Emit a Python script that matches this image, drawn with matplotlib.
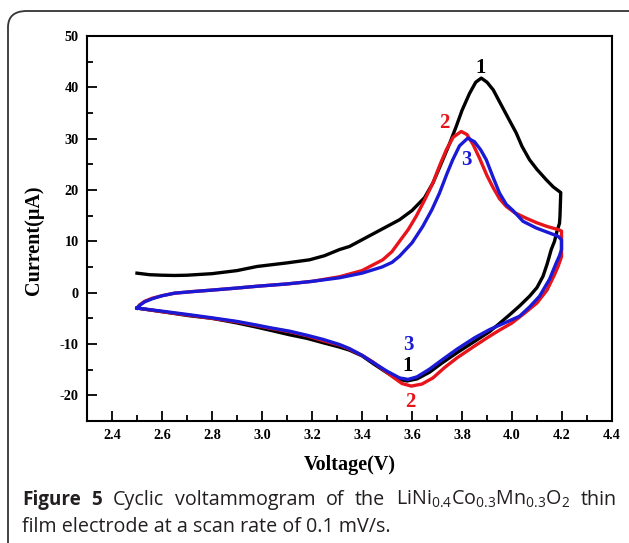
import matplotlib
matplotlib.use('Agg')
import matplotlib.pyplot as plt
from matplotlib.patches import FancyBboxPatch
from matplotlib.ticker import MultipleLocator

plt.rcParams["axes.unicode_minus"] = False
plt.rcParams["mathtext.default"] = "regular"

# cycle 1 (black): anodic sweep up to 4.2 V, then cathodic sweep back to 2.5 V
v1 = [2.50, 2.55, 2.60, 2.65, 2.70, 2.80, 2.90, 2.98, 3.10, 3.19, 3.25, 3.31, 3.35, 3.40, 3.45,
      3.50, 3.55, 3.60, 3.65, 3.684, 3.72, 3.75, 3.777, 3.80, 3.83, 3.855, 3.877, 3.90, 3.925, 3.95,
      3.985, 4.017, 4.04, 4.07, 4.10, 4.137, 4.165, 4.195,
      4.192, 4.19, 4.18, 4.17, 4.157, 4.14, 4.124, 4.10, 4.07, 4.03, 4.00, 3.95, 3.91, 3.85, 3.78,
      3.72, 3.67, 3.62, 3.58, 3.54, 3.50, 3.444, 3.40, 3.35, 3.31, 3.244, 3.18, 3.11, 3.04, 2.977,
      2.90, 2.80, 2.71, 2.60, 2.50]
i1 = [3.8, 3.5, 3.4, 3.35, 3.4, 3.7, 4.3, 5.1, 5.8, 6.4, 7.2, 8.4, 9.0, 10.3, 11.6,
      12.9, 14.2, 16.0, 18.5, 21.4, 25.5, 29.0, 32.4, 35.5, 38.8, 41.0, 41.8, 41.0, 39.5, 37.2,
      34.0, 31.1, 28.5, 25.9, 24.0, 22.0, 20.6, 19.5,
      15.0, 13.5, 12.0, 10.0, 8.4, 5.5, 3.2, 1.0, -0.7, -2.6, -3.9, -6.0, -7.6, -9.5, -11.7,
      -13.7, -15.5, -16.8, -17.2, -16.8, -15.6, -13.8, -12.3, -11.2, -10.6, -9.75, -8.9, -8.2, -7.4, -6.7,
      -5.9, -5.0, -4.5, -3.7, -3.0]

# cycle 2 (red)
v2 = [2.50, 2.51, 2.53, 2.56, 2.60, 2.65, 2.72, 2.80, 2.90, 2.98, 3.10, 3.20, 3.31, 3.40, 3.483,
      3.52, 3.55, 3.585, 3.617, 3.65, 3.684, 3.71, 3.737, 3.765, 3.797, 3.82, 3.845, 3.87, 3.90, 3.924,
      3.95, 3.977, 4.01, 4.057, 4.10, 4.14, 4.184, 4.198,
      4.198, 4.185, 4.17, 4.14, 4.10, 4.05, 4.00, 3.95, 3.91, 3.85, 3.78, 3.73, 3.684, 3.64, 3.597,
      3.56, 3.52, 3.48, 3.444, 3.40, 3.35, 3.31, 3.24, 3.18, 3.11, 3.04, 2.977, 2.90, 2.80, 2.71,
      2.60, 2.50]
i2 = [-3.0, -2.4, -1.7, -1.1, -0.6, -0.1, 0.2, 0.5, 0.9, 1.25, 1.7, 2.2, 3.1, 4.3, 6.4,
      8.0, 10.0, 12.3, 14.9, 18.0, 21.4, 24.7, 27.8, 30.3, 31.4, 30.8, 28.8, 26.2, 22.8, 20.5,
      18.3, 16.8, 15.6, 14.5, 13.6, 12.9, 12.3, 12.0,
      7.0, 5.2, 3.5, 0.5, -2.0, -4.0, -5.9, -7.3, -8.5, -10.4, -12.7, -14.6, -16.6, -17.8, -18.2,
      -17.7, -16.3, -14.8, -13.5, -12.2, -11.0, -10.2, -9.3, -8.4, -7.6, -7.0, -6.4, -5.7, -5.0, -4.4,
      -3.7, -3.0]

# cycle 3 (blue)
v3 = [2.50, 2.51, 2.53, 2.56, 2.60, 2.65, 2.72, 2.80, 2.90, 2.98, 3.10, 3.20, 3.31, 3.40, 3.48,
      3.52, 3.55, 3.60, 3.643, 3.68, 3.71, 3.74, 3.763, 3.79, 3.823, 3.85, 3.875, 3.897, 3.925, 3.95,
      3.977, 4.004, 4.044, 4.097, 4.14, 4.184, 4.198,
      4.198, 4.19, 4.177, 4.15, 4.11, 4.07, 4.03, 3.97, 3.91, 3.85, 3.78, 3.72, 3.67, 3.62, 3.584,
      3.55, 3.50, 3.444, 3.40, 3.35, 3.31, 3.244, 3.18, 3.11, 3.04, 2.977, 2.90, 2.80, 2.71, 2.60,
      2.50]
i3 = [-3.0, -2.5, -1.8, -1.2, -0.6, -0.1, 0.2, 0.5, 0.9, 1.25, 1.7, 2.2, 2.9, 3.8, 5.0,
      5.9, 7.1, 9.7, 12.9, 16.2, 19.4, 23.2, 25.9, 28.6, 30.1, 29.4, 27.8, 25.9, 22.4, 19.4,
      17.2, 16.0, 13.9, 12.6, 11.8, 11.0, 10.3,
      8.4, 7.2, 5.8, 2.6, -0.7, -2.8, -4.6, -5.9, -7.2, -8.8, -11.0, -13.1, -14.9, -16.4, -16.9,
      -16.6, -15.3, -13.6, -12.2, -10.9, -10.1, -9.1, -8.3, -7.5, -6.9, -6.3, -5.6, -4.9, -4.3, -3.6,
      -3.0]

# cycle number labels: (text, x, y, colour)
labels = [("1", 3.876, 43.8, "black"), ("2", 3.731, 33.0, "#e8141b"), ("3", 3.816, 25.9, "#1a1ad6"),
          ("3", 3.584, -10.2, "#1a1ad6"), ("1", 3.584, -14.2, "black"), ("2", 3.595, -21.3, "#e8141b")]

serif = "Liberation Serif"
fig = plt.figure(figsize=(6.29, 5.43), dpi=100)

# rounded frame around the figure panel
frame = FancyBboxPatch((8 / 629, -0.1), 1.2, 1 - 11 / 543 + 0.1,
                       boxstyle="round,pad=0,rounding_size=0.03",
                       transform=fig.transFigure, fc="none", ec="#333333", lw=1.3)
fig.patches.append(frame)

ax = fig.add_axes([87 / 629, 1 - 421 / 543, 525 / 629, 385 / 543])
ax.plot(v1, i1, color="black", lw=2.4)
ax.plot(v2, i2, color="#e8141b", lw=2.4)
ax.plot(v3, i3, color="#1a1ad6", lw=2.4)

for txt, x, y, c in labels:
    ax.text(x, y, txt, color=c, fontsize=15, fontweight="bold", family=serif,
            ha="center", va="center")

ax.set_xlim(2.3, 4.4)
ax.set_ylim(-25, 50)
ax.xaxis.set_major_locator(MultipleLocator(0.2))
ax.xaxis.set_minor_locator(MultipleLocator(0.1))
ax.yaxis.set_major_locator(MultipleLocator(10))
ax.yaxis.set_minor_locator(MultipleLocator(5))
ax.tick_params(which="both", direction="in", width=1.3, top=False, right=False, pad=6)
ax.tick_params(which="major", length=7)
ax.tick_params(which="minor", length=4)
for lab in ax.get_xticklabels() + ax.get_yticklabels():
    lab.set_family(serif)
    lab.set_fontweight("bold")
    lab.set_fontsize(10.3)
for s in ax.spines.values():
    s.set_linewidth(1.5)

ax.set_xlabel("Voltage(V)", family=serif, fontweight="bold", fontsize=14.5, labelpad=9)
ax.set_ylabel("Current(\u03bcA)", family=serif, fontweight="bold", fontsize=14.5, labelpad=11)
ax.yaxis.label.set_y(0.47)

# caption, justified on the first line
cap_col = "#231f20"
r = fig.canvas.get_renderer()
line1 = [("Figure", "bold"), ("5", "bold"), ("Cyclic", "normal"), ("voltammogram", "normal"),
         ("of", "normal"), ("the", "normal"),
         (r"LiNi$_{0.4}$Co$_{0.3}$Mn$_{0.3}$O$_{2}$", "normal"), ("thin", "normal")]
x0, x1, y1 = 22 / 629, 617 / 629, 1 - 505 / 543
texts = []
for w, wt in line1:
    size = 13.6 if wt == "bold" else 14.2
    t = fig.text(0, y1, w, fontweight=wt, va="baseline", family="Open Sans",
                 fontsize=size, color=cap_col)
    texts.append(t)
widths = [t.get_window_extent(r).width / fig.bbox.width for t in texts]
gap = (x1 - x0 - sum(widths)) / (len(texts) - 1)
x = x0
for t, w in zip(texts, widths):
    t.set_x(x)
    x += w + gap
fig.text(x0, 1 - 532 / 543, "film electrode at a scan rate of 0.1 mV/s.", va="baseline",
         family="Open Sans", fontsize=14.2, color=cap_col)

fig.savefig("out.png", dpi=100)
